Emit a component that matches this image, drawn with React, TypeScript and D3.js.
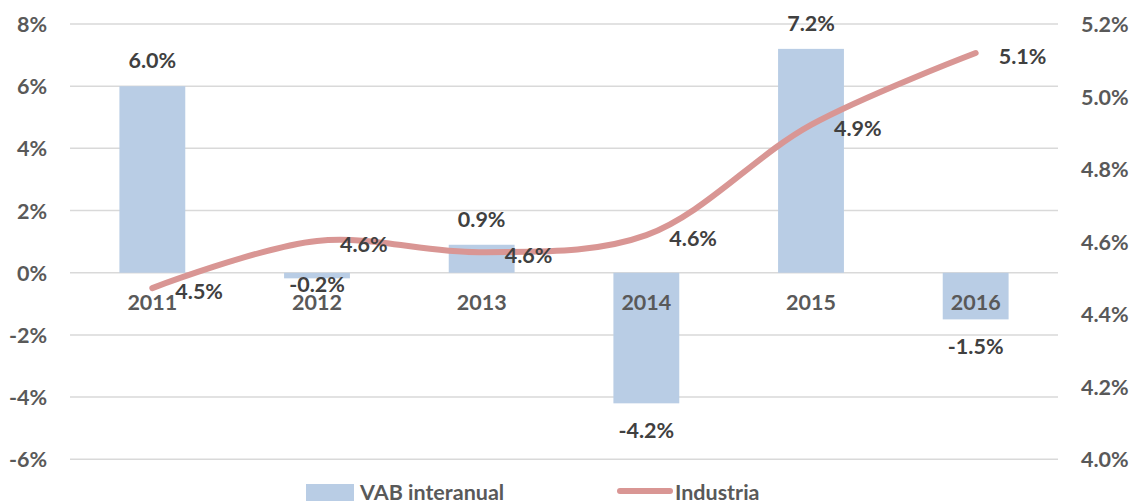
import React from "react";
import * as d3 from "d3";

const years = ["2011", "2012", "2013", "2014", "2015", "2016"];
const vabInteranual = [6.0, -0.18, 0.9, -4.2, 7.2, -1.5];
const industria = [4.472, 4.602, 4.571, 4.618, 4.922, 5.12];
const leftTicks = [-6, -4, -2, 0, 2, 4, 6, 8];
const rightTicks = [4.0, 4.2, 4.4, 4.6, 4.8, 5.0, 5.2];
const seriesNames = ["VAB interanual", "Industria"];

const W = 1135;
const H = 501;
const FONT = "Lato, 'Open Sans', sans-serif";
const AXIS_COLOR = "#595959";
const LABEL_COLOR = "#404040";
const BAR_COLOR = "#B9CDE5";
const LINE_COLOR = "#D99694";
const GRID_COLOR = "#D9D9D9";
const FS = 21.5;

export default function App() {
  const left = 70;
  const right = 1058;
  const top = 24;
  const bottom = 459.3;

  const x = d3.scaleBand<string>().domain(years).range([left, right]).paddingInner(0).paddingOuter(0);
  const yL = d3.scaleLinear().domain([-6, 8]).range([bottom, top]);
  const yR = d3.scaleLinear().domain([4.0, 5.2]).range([bottom, top]);
  const barW = x.bandwidth() * 0.4;
  const cx = (y: string) => (x(y) ?? 0) + x.bandwidth() / 2;

  const line = d3
    .line<number>()
    .x((_, i) => cx(years[i]))
    .y((d) => yR(d))
    .curve(d3.curveCatmullRom.alpha(0.5));

  const negNudge: Record<number, number> = { 1: -21 };

  return (
    <svg
      width={W}
      height={H}
      style={{ position: "absolute", left: 0, top: 0, background: "#fff" }}
      fontFamily={FONT}
      fontWeight="bold"
    >
      <rect width={W} height={H} fill="#fff" />
      {leftTicks.map((t) => (
        <line key={"g" + t} x1={left} x2={right} y1={yL(t)} y2={yL(t)} stroke={GRID_COLOR} strokeWidth={1.5} />
      ))}
      {leftTicks.map((t) => (
        <text key={"l" + t} x={47} y={yL(t)} textAnchor="end" dominantBaseline="central" fontSize={FS} fill={AXIS_COLOR}>
          {t + "%"}
        </text>
      ))}
      {rightTicks.map((t) => (
        <text key={"r" + t} x={1081} y={yR(t)} textAnchor="start" dominantBaseline="central" fontSize={FS} fill={AXIS_COLOR}>
          {t.toFixed(1) + "%"}
        </text>
      ))}
      {vabInteranual.map((v, i) => {
        const y0 = yL(0);
        const y1 = yL(v);
        return (
          <rect
            key={"b" + i}
            x={cx(years[i]) - barW / 2}
            y={Math.min(y0, y1)}
            width={barW}
            height={Math.abs(y1 - y0)}
            fill={BAR_COLOR}
          />
        );
      })}
      {years.map((yv) => (
        <text key={"c" + yv} x={cx(yv)} y={310} textAnchor="middle" fontSize={FS} fill={AXIS_COLOR}>
          {yv}
        </text>
      ))}
      <path d={line(industria) ?? ""} fill="none" stroke={LINE_COLOR} strokeWidth={6} strokeLinecap="round" />
      {vabInteranual.map((v, i) => {
        const yy = v >= 0 ? yL(v) - 18 : yL(v) + 35 + (negNudge[i] ?? 0);
        return (
          <text key={"bl" + i} x={cx(years[i])} y={yy} textAnchor="middle" fontSize={FS} fill={LABEL_COLOR}>
            {v.toFixed(1) + "%"}
          </text>
        );
      })}
      {industria.map((v, i) => (
        <text
          key={"ll" + i}
          x={cx(years[i]) + 23}
          y={yR(v) + 3}
          textAnchor="start"
          dominantBaseline="central"
          fontSize={FS}
          fill={LABEL_COLOR}
        >
          {v.toFixed(1) + "%"}
        </text>
      ))}
      <rect x={306} y={484} width={48} height={20} fill={BAR_COLOR} />
      <text x={360} y={500} fontSize={FS} fill={AXIS_COLOR}>
        {seriesNames[0]}
      </text>
      <line x1={620} x2={670} y1={491} y2={491} stroke={LINE_COLOR} strokeWidth={6} strokeLinecap="round" />
      <text x={675} y={500} fontSize={FS} fill={AXIS_COLOR}>
        {seriesNames[1]}
      </text>
    </svg>
  );
}
